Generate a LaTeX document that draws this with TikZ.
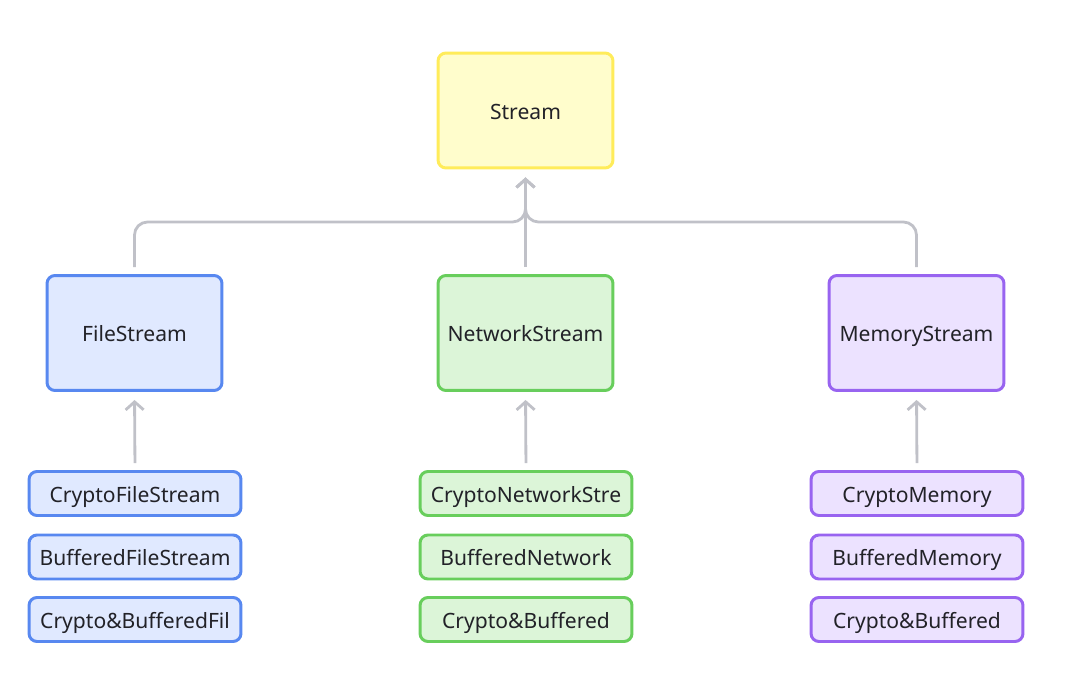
\documentclass[tikz,border=0pt]{standalone}
\usepackage{fontspec}
\setmainfont{Noto Sans}
\usetikzlibrary{arrows.meta}
\definecolor{linkgray}{RGB}{192,193,200}
\definecolor{txt}{RGB}{34,34,40}
\definecolor{yellowline}{RGB}{255,236,90}
\definecolor{yellowfill}{RGB}{255,253,204}
\definecolor{blueline}{RGB}{88,136,240}
\definecolor{bluefill}{RGB}{224,233,255}
\definecolor{greenline}{RGB}{104,206,92}
\definecolor{greenfill}{RGB}{220,245,216}
\definecolor{purpleline}{RGB}{152,100,240}
\definecolor{purplefill}{RGB}{236,226,255}

\begin{document}
\begin{tikzpicture}[x=0.02cm, y=-0.02cm,
    bigbox/.style={draw, line width=1.7pt, rounded corners=0.16cm, inner sep=0pt,
        minimum width=3.5cm, minimum height=2.3cm, text=txt, text height=1.2em, text depth=0.22em,
        font=\fontsize{12}{14}\selectfont},
    smallbox/.style={draw, line width=1.7pt, rounded corners=0.16cm, inner sep=0pt,
        minimum width=4.24cm, minimum height=0.88cm, text=txt, text height=1.2em, text depth=0.22em,
        font=\fontsize{12}{14}\selectfont},
    link/.style={draw=linkgray, line width=1.6pt, rounded corners=0.26cm,
        -{Straight Barb[length=0.16cm, width=0.36cm, line width=1.6pt]},
        shorten <=0.14cm, shorten >=0.16cm}]
    \useasboundingbox (0,0) rectangle (1083,686);

    % top
    \node [bigbox, draw=yellowline, fill=yellowfill] (stream) at (525.5,110.5) {Stream};
    \coordinate (hub) at (525.5,222);

    % middle row
    \node [bigbox, draw=blueline, fill=bluefill] (file) at (134.5,333) {FileStream};
    \node [bigbox, draw=greenline, fill=greenfill] (network) at (525.5,333) {NetworkStream};
    \node [bigbox, draw=purpleline, fill=purplefill] (memory) at (916.5,333) {MemoryStream};

    % file stream wrappers
    \node [smallbox, draw=blueline, fill=bluefill] (cfile) at (135,493.5) {CryptoFileStream};
    \node [smallbox, draw=blueline, fill=bluefill] (bfile) at (135,557) {BufferedFileStream};
    \node [smallbox, draw=blueline, fill=bluefill] (cbfile) at (135,619.5) {Crypto\&BufferedFil};

    % network stream wrappers
    \node [smallbox, draw=greenline, fill=greenfill] (cnet) at (526,493.5) {CryptoNetworkStre};
    \node [smallbox, draw=greenline, fill=greenfill] (bnet) at (526,557) {BufferedNetwork};
    \node [smallbox, draw=greenline, fill=greenfill] (cbnet) at (526,619.5) {Crypto\&Buffered};

    % memory stream wrappers
    \node [smallbox, draw=purpleline, fill=purplefill] (cmem) at (917,493.5) {CryptoMemory};
    \node [smallbox, draw=purpleline, fill=purplefill] (bmem) at (917,557) {BufferedMemory};
    \node [smallbox, draw=purpleline, fill=purplefill] (cbmem) at (917,619.5) {Crypto\&Buffered};

    % inheritance
    \path [link] (file.north) |- (hub) -- (stream.south);
    \path [link] (memory.north) |- (hub) -- (stream.south);
    \path [link] (network.north) -- (stream.south);
    \path [link] (cfile.north) -- (file.south);
    \path [link] (cnet.north) -- (network.south);
    \path [link] (cmem.north) -- (memory.south);
\end{tikzpicture}
\end{document}
